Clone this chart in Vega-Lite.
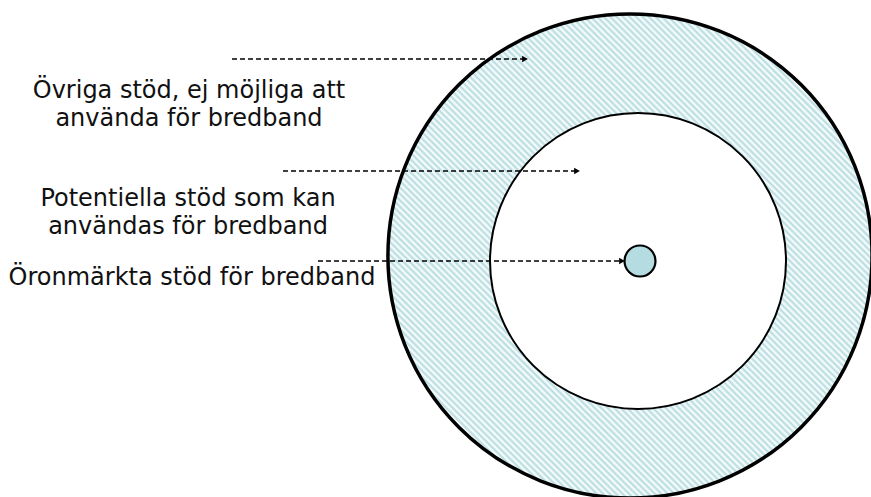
{
  "$schema": "https://vega.github.io/schema/vega-lite/v6.json",
  "width": 871,
  "height": 497,
  "autosize": {"type": "none"},
  "padding": 0,
  "background": "white",
  "config": {"view": {"stroke": null}},
  "datasets": {
    "circles": [
      {"name": "outer", "cx": 630, "cy": 256, "r": 242},
      {"name": "inner", "cx": 638, "cy": 261, "r": 148},
      {"name": "core", "cx": 640, "cy": 261, "r": 15.5}
    ],
    "arrows": [
      {"x1": 232, "x2": 524, "tip": 525, "y": 59},
      {"x1": 283, "x2": 576, "tip": 577, "y": 171},
      {"x1": 318, "x2": 621, "tip": 622, "y": 261}
    ],
    "labels": [
      {"label": "Övriga stöd, ej möjliga att\nanvända för bredband", "x": 189, "y": 98},
      {"label": "Potentiella stöd som kan\nanvändas för bredband", "x": 188, "y": 206},
      {"label": "Öronmärkta stöd för bredband", "x": 192, "y": 285}
    ]
  },
  "encoding": {
    "x": {"type": "quantitative", "scale": {"domain": [0, 871], "nice": false, "zero": false}, "axis": null},
    "y": {"type": "quantitative", "scale": {"domain": [0, 497], "nice": false, "zero": false, "reverse": true}, "axis": null}
  },
  "layer": [
    {
      "data": {"name": "circles"},
      "transform": [{"filter": "datum.name === 'outer'"}],
      "mark": {
        "type": "arc", "theta": 0, "theta2": 6.2832, "stroke": "#000", "strokeWidth": 3.5,
        "fill": {"gradient": "linear", "x1": 0, "y1": 1, "x2": 1, "y2": 0, "stops": [
{"offset":0,"color":"#b3dbdf"},{"offset":0.0033,"color":"#fff"},{"offset":0.0067,"color":"#b3dbdf"},
{"offset":0.01,"color":"#fff"},{"offset":0.0133,"color":"#b3dbdf"},{"offset":0.0167,"color":"#fff"},
{"offset":0.02,"color":"#b3dbdf"},{"offset":0.0233,"color":"#fff"},{"offset":0.0267,"color":"#b3dbdf"},
{"offset":0.03,"color":"#fff"},{"offset":0.0333,"color":"#b3dbdf"},{"offset":0.0367,"color":"#fff"},
{"offset":0.04,"color":"#b3dbdf"},{"offset":0.0433,"color":"#fff"},{"offset":0.0467,"color":"#b3dbdf"},
{"offset":0.05,"color":"#fff"},{"offset":0.0533,"color":"#b3dbdf"},{"offset":0.0567,"color":"#fff"},
{"offset":0.06,"color":"#b3dbdf"},{"offset":0.0633,"color":"#fff"},{"offset":0.0667,"color":"#b3dbdf"},
{"offset":0.07,"color":"#fff"},{"offset":0.0733,"color":"#b3dbdf"},{"offset":0.0767,"color":"#fff"},
{"offset":0.08,"color":"#b3dbdf"},{"offset":0.0833,"color":"#fff"},{"offset":0.0867,"color":"#b3dbdf"},
{"offset":0.09,"color":"#fff"},{"offset":0.0933,"color":"#b3dbdf"},{"offset":0.0967,"color":"#fff"},
{"offset":0.10,"color":"#b3dbdf"},{"offset":0.1033,"color":"#fff"},{"offset":0.1067,"color":"#b3dbdf"},
{"offset":0.11,"color":"#fff"},{"offset":0.1133,"color":"#b3dbdf"},{"offset":0.1167,"color":"#fff"},
{"offset":0.12,"color":"#b3dbdf"},{"offset":0.1233,"color":"#fff"},{"offset":0.1267,"color":"#b3dbdf"},
{"offset":0.13,"color":"#fff"},{"offset":0.1333,"color":"#b3dbdf"},{"offset":0.1367,"color":"#fff"},
{"offset":0.14,"color":"#b3dbdf"},{"offset":0.1433,"color":"#fff"},{"offset":0.1467,"color":"#b3dbdf"},
{"offset":0.15,"color":"#fff"},{"offset":0.1533,"color":"#b3dbdf"},{"offset":0.1567,"color":"#fff"},
{"offset":0.16,"color":"#b3dbdf"},{"offset":0.1633,"color":"#fff"},{"offset":0.1667,"color":"#b3dbdf"},
{"offset":0.17,"color":"#fff"},{"offset":0.1733,"color":"#b3dbdf"},{"offset":0.1767,"color":"#fff"},
{"offset":0.18,"color":"#b3dbdf"},{"offset":0.1833,"color":"#fff"},{"offset":0.1867,"color":"#b3dbdf"},
{"offset":0.19,"color":"#fff"},{"offset":0.1933,"color":"#b3dbdf"},{"offset":0.1967,"color":"#fff"},
{"offset":0.20,"color":"#b3dbdf"},{"offset":0.2033,"color":"#fff"},{"offset":0.2067,"color":"#b3dbdf"},
{"offset":0.21,"color":"#fff"},{"offset":0.2133,"color":"#b3dbdf"},{"offset":0.2167,"color":"#fff"},
{"offset":0.22,"color":"#b3dbdf"},{"offset":0.2233,"color":"#fff"},{"offset":0.2267,"color":"#b3dbdf"},
{"offset":0.23,"color":"#fff"},{"offset":0.2333,"color":"#b3dbdf"},{"offset":0.2367,"color":"#fff"},
{"offset":0.24,"color":"#b3dbdf"},{"offset":0.2433,"color":"#fff"},{"offset":0.2467,"color":"#b3dbdf"},
{"offset":0.25,"color":"#fff"},{"offset":0.2533,"color":"#b3dbdf"},{"offset":0.2567,"color":"#fff"},
{"offset":0.26,"color":"#b3dbdf"},{"offset":0.2633,"color":"#fff"},{"offset":0.2667,"color":"#b3dbdf"},
{"offset":0.27,"color":"#fff"},{"offset":0.2733,"color":"#b3dbdf"},{"offset":0.2767,"color":"#fff"},
{"offset":0.28,"color":"#b3dbdf"},{"offset":0.2833,"color":"#fff"},{"offset":0.2867,"color":"#b3dbdf"},
{"offset":0.29,"color":"#fff"},{"offset":0.2933,"color":"#b3dbdf"},{"offset":0.2967,"color":"#fff"},
{"offset":0.30,"color":"#b3dbdf"},{"offset":0.3033,"color":"#fff"},{"offset":0.3067,"color":"#b3dbdf"},
{"offset":0.31,"color":"#fff"},{"offset":0.3133,"color":"#b3dbdf"},{"offset":0.3167,"color":"#fff"},
{"offset":0.32,"color":"#b3dbdf"},{"offset":0.3233,"color":"#fff"},{"offset":0.3267,"color":"#b3dbdf"},
{"offset":0.33,"color":"#fff"},{"offset":0.3333,"color":"#b3dbdf"},{"offset":0.3367,"color":"#fff"},
{"offset":0.34,"color":"#b3dbdf"},{"offset":0.3433,"color":"#fff"},{"offset":0.3467,"color":"#b3dbdf"},
{"offset":0.35,"color":"#fff"},{"offset":0.3533,"color":"#b3dbdf"},{"offset":0.3567,"color":"#fff"},
{"offset":0.36,"color":"#b3dbdf"},{"offset":0.3633,"color":"#fff"},{"offset":0.3667,"color":"#b3dbdf"},
{"offset":0.37,"color":"#fff"},{"offset":0.3733,"color":"#b3dbdf"},{"offset":0.3767,"color":"#fff"},
{"offset":0.38,"color":"#b3dbdf"},{"offset":0.3833,"color":"#fff"},{"offset":0.3867,"color":"#b3dbdf"},
{"offset":0.39,"color":"#fff"},{"offset":0.3933,"color":"#b3dbdf"},{"offset":0.3967,"color":"#fff"},
{"offset":0.40,"color":"#b3dbdf"},{"offset":0.4033,"color":"#fff"},{"offset":0.4067,"color":"#b3dbdf"},
{"offset":0.41,"color":"#fff"},{"offset":0.4133,"color":"#b3dbdf"},{"offset":0.4167,"color":"#fff"},
{"offset":0.42,"color":"#b3dbdf"},{"offset":0.4233,"color":"#fff"},{"offset":0.4267,"color":"#b3dbdf"},
{"offset":0.43,"color":"#fff"},{"offset":0.4333,"color":"#b3dbdf"},{"offset":0.4367,"color":"#fff"},
{"offset":0.44,"color":"#b3dbdf"},{"offset":0.4433,"color":"#fff"},{"offset":0.4467,"color":"#b3dbdf"},
{"offset":0.45,"color":"#fff"},{"offset":0.4533,"color":"#b3dbdf"},{"offset":0.4567,"color":"#fff"},
{"offset":0.46,"color":"#b3dbdf"},{"offset":0.4633,"color":"#fff"},{"offset":0.4667,"color":"#b3dbdf"},
{"offset":0.47,"color":"#fff"},{"offset":0.4733,"color":"#b3dbdf"},{"offset":0.4767,"color":"#fff"},
{"offset":0.48,"color":"#b3dbdf"},{"offset":0.4833,"color":"#fff"},{"offset":0.4867,"color":"#b3dbdf"},
{"offset":0.49,"color":"#fff"},{"offset":0.4933,"color":"#b3dbdf"},{"offset":0.4967,"color":"#fff"},
{"offset":0.50,"color":"#b3dbdf"},{"offset":0.5033,"color":"#fff"},{"offset":0.5067,"color":"#b3dbdf"},
{"offset":0.51,"color":"#fff"},{"offset":0.5133,"color":"#b3dbdf"},{"offset":0.5167,"color":"#fff"},
{"offset":0.52,"color":"#b3dbdf"},{"offset":0.5233,"color":"#fff"},{"offset":0.5267,"color":"#b3dbdf"},
{"offset":0.53,"color":"#fff"},{"offset":0.5333,"color":"#b3dbdf"},{"offset":0.5367,"color":"#fff"},
{"offset":0.54,"color":"#b3dbdf"},{"offset":0.5433,"color":"#fff"},{"offset":0.5467,"color":"#b3dbdf"},
{"offset":0.55,"color":"#fff"},{"offset":0.5533,"color":"#b3dbdf"},{"offset":0.5567,"color":"#fff"},
{"offset":0.56,"color":"#b3dbdf"},{"offset":0.5633,"color":"#fff"},{"offset":0.5667,"color":"#b3dbdf"},
{"offset":0.57,"color":"#fff"},{"offset":0.5733,"color":"#b3dbdf"},{"offset":0.5767,"color":"#fff"},
{"offset":0.58,"color":"#b3dbdf"},{"offset":0.5833,"color":"#fff"},{"offset":0.5867,"color":"#b3dbdf"},
{"offset":0.59,"color":"#fff"},{"offset":0.5933,"color":"#b3dbdf"},{"offset":0.5967,"color":"#fff"},
{"offset":0.60,"color":"#b3dbdf"},{"offset":0.6033,"color":"#fff"},{"offset":0.6067,"color":"#b3dbdf"},
{"offset":0.61,"color":"#fff"},{"offset":0.6133,"color":"#b3dbdf"},{"offset":0.6167,"color":"#fff"},
{"offset":0.62,"color":"#b3dbdf"},{"offset":0.6233,"color":"#fff"},{"offset":0.6267,"color":"#b3dbdf"},
{"offset":0.63,"color":"#fff"},{"offset":0.6333,"color":"#b3dbdf"},{"offset":0.6367,"color":"#fff"},
{"offset":0.64,"color":"#b3dbdf"},{"offset":0.6433,"color":"#fff"},{"offset":0.6467,"color":"#b3dbdf"},
{"offset":0.65,"color":"#fff"},{"offset":0.6533,"color":"#b3dbdf"},{"offset":0.6567,"color":"#fff"},
{"offset":0.66,"color":"#b3dbdf"},{"offset":0.6633,"color":"#fff"},{"offset":0.6667,"color":"#b3dbdf"},
{"offset":0.67,"color":"#fff"},{"offset":0.6733,"color":"#b3dbdf"},{"offset":0.6767,"color":"#fff"},
{"offset":0.68,"color":"#b3dbdf"},{"offset":0.6833,"color":"#fff"},{"offset":0.6867,"color":"#b3dbdf"},
{"offset":0.69,"color":"#fff"},{"offset":0.6933,"color":"#b3dbdf"},{"offset":0.6967,"color":"#fff"},
{"offset":0.70,"color":"#b3dbdf"},{"offset":0.7033,"color":"#fff"},{"offset":0.7067,"color":"#b3dbdf"},
{"offset":0.71,"color":"#fff"},{"offset":0.7133,"color":"#b3dbdf"},{"offset":0.7167,"color":"#fff"},
{"offset":0.72,"color":"#b3dbdf"},{"offset":0.7233,"color":"#fff"},{"offset":0.7267,"color":"#b3dbdf"},
{"offset":0.73,"color":"#fff"},{"offset":0.7333,"color":"#b3dbdf"},{"offset":0.7367,"color":"#fff"},
{"offset":0.74,"color":"#b3dbdf"},{"offset":0.7433,"color":"#fff"},{"offset":0.7467,"color":"#b3dbdf"},
{"offset":0.75,"color":"#fff"},{"offset":0.7533,"color":"#b3dbdf"},{"offset":0.7567,"color":"#fff"},
{"offset":0.76,"color":"#b3dbdf"},{"offset":0.7633,"color":"#fff"},{"offset":0.7667,"color":"#b3dbdf"},
{"offset":0.77,"color":"#fff"},{"offset":0.7733,"color":"#b3dbdf"},{"offset":0.7767,"color":"#fff"},
{"offset":0.78,"color":"#b3dbdf"},{"offset":0.7833,"color":"#fff"},{"offset":0.7867,"color":"#b3dbdf"},
{"offset":0.79,"color":"#fff"},{"offset":0.7933,"color":"#b3dbdf"},{"offset":0.7967,"color":"#fff"},
{"offset":0.80,"color":"#b3dbdf"},{"offset":0.8033,"color":"#fff"},{"offset":0.8067,"color":"#b3dbdf"},
{"offset":0.81,"color":"#fff"},{"offset":0.8133,"color":"#b3dbdf"},{"offset":0.8167,"color":"#fff"},
{"offset":0.82,"color":"#b3dbdf"},{"offset":0.8233,"color":"#fff"},{"offset":0.8267,"color":"#b3dbdf"},
{"offset":0.83,"color":"#fff"},{"offset":0.8333,"color":"#b3dbdf"},{"offset":0.8367,"color":"#fff"},
{"offset":0.84,"color":"#b3dbdf"},{"offset":0.8433,"color":"#fff"},{"offset":0.8467,"color":"#b3dbdf"},
{"offset":0.85,"color":"#fff"},{"offset":0.8533,"color":"#b3dbdf"},{"offset":0.8567,"color":"#fff"},
{"offset":0.86,"color":"#b3dbdf"},{"offset":0.8633,"color":"#fff"},{"offset":0.8667,"color":"#b3dbdf"},
{"offset":0.87,"color":"#fff"},{"offset":0.8733,"color":"#b3dbdf"},{"offset":0.8767,"color":"#fff"},
{"offset":0.88,"color":"#b3dbdf"},{"offset":0.8833,"color":"#fff"},{"offset":0.8867,"color":"#b3dbdf"},
{"offset":0.89,"color":"#fff"},{"offset":0.8933,"color":"#b3dbdf"},{"offset":0.8967,"color":"#fff"},
{"offset":0.90,"color":"#b3dbdf"},{"offset":0.9033,"color":"#fff"},{"offset":0.9067,"color":"#b3dbdf"},
{"offset":0.91,"color":"#fff"},{"offset":0.9133,"color":"#b3dbdf"},{"offset":0.9167,"color":"#fff"},
{"offset":0.92,"color":"#b3dbdf"},{"offset":0.9233,"color":"#fff"},{"offset":0.9267,"color":"#b3dbdf"},
{"offset":0.93,"color":"#fff"},{"offset":0.9333,"color":"#b3dbdf"},{"offset":0.9367,"color":"#fff"},
{"offset":0.94,"color":"#b3dbdf"},{"offset":0.9433,"color":"#fff"},{"offset":0.9467,"color":"#b3dbdf"},
{"offset":0.95,"color":"#fff"},{"offset":0.9533,"color":"#b3dbdf"},{"offset":0.9567,"color":"#fff"},
{"offset":0.96,"color":"#b3dbdf"},{"offset":0.9633,"color":"#fff"},{"offset":0.9667,"color":"#b3dbdf"},
{"offset":0.97,"color":"#fff"},{"offset":0.9733,"color":"#b3dbdf"},{"offset":0.9767,"color":"#fff"},
{"offset":0.98,"color":"#b3dbdf"},{"offset":0.9833,"color":"#fff"},{"offset":0.9867,"color":"#b3dbdf"},
{"offset":0.99,"color":"#fff"},{"offset":0.9933,"color":"#b3dbdf"},{"offset":0.9967,"color":"#fff"},
{"offset":1,"color":"#b3dbdf"}
        ]}
      },
      "encoding": {
        "x": {"field": "cx"},
        "y": {"field": "cy"},
        "radius": {"field": "r", "type": "quantitative", "scale": {"type": "linear", "domain": [0, 250], "range": [0, 250], "zero": true}}
      }
    },
    {
      "data": {"name": "circles"},
      "transform": [{"filter": "datum.name === 'inner'"}],
      "mark": {"type": "arc", "theta": 0, "theta2": 6.2832, "stroke": "#000", "strokeWidth": 2, "fill": "#ffffff"},
      "encoding": {
        "x": {"field": "cx"},
        "y": {"field": "cy"},
        "radius": {"field": "r", "type": "quantitative", "scale": {"type": "linear", "domain": [0, 250], "range": [0, 250], "zero": true}}
      }
    },
    {
      "data": {"name": "circles"},
      "transform": [{"filter": "datum.name === 'core'"}],
      "mark": {"type": "arc", "theta": 0, "theta2": 6.2832, "stroke": "#000", "strokeWidth": 2.2, "fill": "#b5dde1"},
      "encoding": {
        "x": {"field": "cx"},
        "y": {"field": "cy"},
        "radius": {"field": "r", "type": "quantitative", "scale": {"type": "linear", "domain": [0, 250], "range": [0, 250], "zero": true}}
      }
    },
    {
      "data": {"name": "arrows"},
      "mark": {"type": "rule", "stroke": "#000", "strokeWidth": 1.3, "strokeDash": [5, 3]},
      "encoding": {
        "x": {"field": "x1"},
        "x2": {"field": "x2"},
        "y": {"field": "y"}
      }
    },
    {
      "data": {"name": "arrows"},
      "mark": {"type": "point", "shape": "triangle-right", "filled": true, "color": "#000", "size": 45, "opacity": 1},
      "encoding": {
        "x": {"field": "tip"},
        "y": {"field": "y"}
      }
    },
    {
      "data": {"name": "labels"},
      "mark": {"type": "text", "font": "DejaVu Sans", "fontSize": 24, "align": "center", "baseline": "alphabetic", "lineBreak": "\n", "lineHeight": 28, "color": "#111"},
      "encoding": {
        "x": {"field": "x"},
        "y": {"field": "y"},
        "text": {"field": "label"}
      }
    }
  ]
}
